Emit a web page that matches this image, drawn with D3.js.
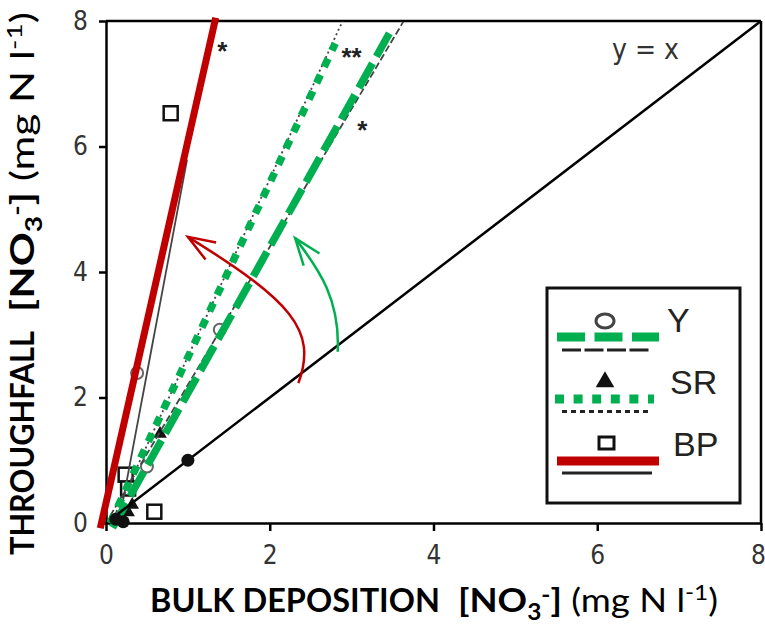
<!DOCTYPE html>
<html>
<head>
<meta charset="utf-8">
<script src="https://cdn.jsdelivr.net/npm/d3@7"></script>
<style>
  body { margin: 0; background: #fff; }
  svg { display: block; }
  .axis text { font-family: "Liberation Sans Narrow", "DejaVu Sans Condensed", sans-serif; font-size: 26px; fill: #333; }
  .axis path, .axis line { stroke: #000; stroke-width: 2.5; }
  .title { font-family: Lato, "Open Sans", sans-serif; font-size: 33px; font-weight: 700; fill: #000; }
</style>
</head>
<body>
<svg width="765" height="634"></svg>
<script>

// tick values (both axes)
var ticks = [0, 2, 4, 6, 8];

var seriesNames = ["Y", "SR", "BP"];

// regression lines: [slope, intercept, xStart, xEnd]
var fitMain = [[2.33, -0.26, 0.08, 3.46], [2.78, -0.14, 0.05, 2.80], [5.77, 0.32, -0.07, 1.34]];
var fitThin = [[2.20, 0.00, 0.05, 3.63], [2.83, -0.18, 0.10, 2.89], [6.95, -1.09, 0.18, 0.99]];

// 1:1 line
var oneToOne = [[0.1, 0.1], [8, 8]];

// points
var yX = [1.39, 0.50, 0.38, 0.16], yY = [3.08, 0.90, 2.39, 0.08];
var srX = [0.66, 0.32, 0.27], srY = [1.42, 0.29, 0.17];
var bpX = [0.79, 0.24, 0.27, 0.59], bpY = [6.53, 0.77, 0.55, 0.18];
var bulkX = [1.00, 0.21, 0.12], bulkY = [1.00, 0.02, 0.06];

// significance marks
var starX = [1.42, 3.00, 3.13], starY = [7.62, 7.52, 6.36], starLabel = ["*", "**", "*"];

// curved arrows: start, control1, control2, tip
var arrowRed = [[2.35, 2.23], [2.59, 3.08], [2.25, 3.55], [1.00, 4.56]];
var arrowGreen = [[2.83, 2.73], [2.86, 3.55], [2.61, 4.03], [2.31, 4.54]];

// styles
var mainColor = ["#00b050", "#00b050", "#c00000"];
var mainDash = ["28,8", "9,9", null];
var thinDash = ["7,3", "2,3", null];

var svg = d3.select("svg"),
    margin = {top: 21, right: 4, bottom: 111, left: 106},
    width = +svg.attr("width") - margin.left - margin.right,
    height = +svg.attr("height") - margin.top - margin.bottom,
    g = svg.append("g").attr("transform", "translate(" + margin.left + "," + margin.top + ")");

var x = d3.scaleLinear().domain([0, 8]).range([0, width]);
var y = d3.scaleLinear().domain([0, 8]).range([height, 0]);

var line = d3.line()
    .x(function(d) { return x(d[0]); })
    .y(function(d) { return y(d[1]); });

function fitPts(f) {
  return [[f[2], f[1] + f[0] * f[2]], [f[3], f[1] + f[0] * f[3]]];
}

// arrowheads
var defs = svg.append("defs");
["#c00000", "#00b050"].forEach(function(c, i) {
  defs.append("marker")
      .attr("id", "ah" + i)
      .attr("markerUnits", "userSpaceOnUse")
      .attr("viewBox", "-32 -16 36 32")
      .attr("markerWidth", 36)
      .attr("markerHeight", 32)
      .attr("orient", "auto")
      .style("overflow", "visible")
    .append("path")
      .attr("d", "M-27,-10L0,0L-27,10")
      .attr("fill", "none")
      .attr("stroke", c)
      .attr("stroke-width", 2.5);
});

/*  Axes & frame  */

g.append("g")
    .attr("class", "axis")
    .attr("transform", "translate(0," + height + ")")
    .call(d3.axisBottom(x).tickValues(ticks).tickSize(8).tickSizeOuter(0).tickPadding(15))
  .selectAll("text")
    .attr("dx", function(d) { return d == 8 ? -3 : 0; });

g.append("g")
    .attr("class", "axis")
    .call(d3.axisLeft(y).tickValues(ticks).tickSize(7).tickSizeOuter(0).tickPadding(11));

g.append("line")
    .attr("x1", x(0)).attr("x2", x(8))
    .attr("y1", y(8)).attr("y2", y(8))
    .attr("stroke", "#000").attr("stroke-width", 2.5);

g.append("line")
    .attr("x1", x(8)).attr("x2", x(8))
    .attr("y1", y(8)).attr("y2", y(0))
    .attr("stroke", "#000").attr("stroke-width", 2.5);

/*  Points  */

var pts = g.append("g");

pts.selectAll(".bp").data(bpX).enter().append("rect")
    .attr("x", function(d) { return x(d) - 7; })
    .attr("y", function(d, i) { return y(bpY[i]) - 7; })
    .attr("width", 14).attr("height", 14)
    .attr("fill", "#fff").attr("stroke", "#111").attr("stroke-width", 2.5);

pts.selectAll(".yc").data(yX).enter().append("circle")
    .attr("cx", function(d) { return x(d); })
    .attr("cy", function(d, i) { return y(yY[i]); })
    .attr("r", 6)
    .attr("fill", "none").attr("stroke", "#666").attr("stroke-width", 2);

pts.selectAll(".sr").data(srX).enter().append("path")
    .attr("transform", function(d, i) { return "translate(" + x(d) + "," + y(srY[i]) + ")"; })
    .attr("d", d3.symbol().type(d3.symbolTriangle).size(80))
    .attr("fill", "#111");

/*  Thin regression lines  */

g.selectAll(".thin").data(fitThin).enter().append("path")
    .attr("d", function(d) { return line(fitPts(d)); })
    .attr("fill", "none")
    .attr("stroke", "#444")
    .attr("stroke-width", 1.8)
    .attr("stroke-dasharray", function(d, i) { return thinDash[i]; });

/*  Thick regression lines  */

g.selectAll(".main").data(fitMain).enter().append("path")
    .attr("d", function(d) { return line(fitPts(d)); })
    .attr("fill", "none")
    .attr("stroke", function(d, i) { return mainColor[i]; })
    .attr("stroke-width", function(d, i) { return i == 2 ? 7 : 7.5; })
    .attr("stroke-dasharray", function(d, i) { return mainDash[i]; });

/*  1:1 line  */

g.append("path")
    .attr("d", line(oneToOne))
    .attr("fill", "none").attr("stroke", "#000").attr("stroke-width", 2.5);

g.selectAll(".bulk").data(bulkX).enter().append("circle")
    .attr("cx", function(d) { return x(d); })
    .attr("cy", function(d, i) { return y(bulkY[i]); })
    .attr("r", 6.5)
    .attr("fill", "#111");

g.append("text")
    .attr("x", x(6.18)).attr("y", y(7.4))
    .style("font-family", "\"Liberation Sans Narrow\", \"DejaVu Sans Condensed\", sans-serif")
    .style("font-size", "28px").style("fill", "#333")
    .text("y = x");

/*  Stars  */

g.selectAll(".star").data(starLabel).enter().append("text")
    .attr("x", function(d, i) { return x(starX[i]); })
    .attr("y", function(d, i) { return y(starY[i]); })
    .attr("dy", "0.58em")
    .attr("text-anchor", "middle")
    .style("font-family", "\"Liberation Sans\", sans-serif")
    .style("font-size", "26px").style("font-weight", "700").style("fill", "#222")
    .text(function(d) { return d; });

/*  Arrows  */

function curve(p) {
  return "M" + x(p[0][0]) + "," + y(p[0][1]) +
         "C" + x(p[1][0]) + "," + y(p[1][1]) + " " +
         x(p[2][0]) + "," + y(p[2][1]) + " " +
         x(p[3][0]) + "," + y(p[3][1]);
}

g.append("path").attr("d", curve(arrowRed))
    .attr("fill", "none").attr("stroke", "#c00000").attr("stroke-width", 2.5)
    .attr("marker-end", "url(#ah0)");

g.append("path").attr("d", curve(arrowGreen))
    .attr("fill", "none").attr("stroke", "#00b050").attr("stroke-width", 2.5)
    .attr("marker-end", "url(#ah1)");

/*  Legend  */

var lg = svg.append("g");
lg.append("rect")
    .attr("x", 547).attr("y", 288).attr("width", 193).attr("height", 215)
    .attr("fill", "#fff").attr("stroke", "#111").attr("stroke-width", 3);

var rowY = [0, 62, 124];

seriesNames.forEach(function(name, i) {
  var r = lg.append("g").attr("transform", "translate(0," + rowY[i] + ")");
  if (i == 0) {
    r.append("ellipse").attr("cx", 605).attr("cy", 321).attr("rx", 9).attr("ry", 7)
        .attr("fill", "none").attr("stroke", "#444").attr("stroke-width", 3);
  } else if (i == 1) {
    r.append("path").attr("transform", "translate(605,320)")
        .attr("d", d3.symbol().type(d3.symbolTriangle).size(150)).attr("fill", "#111");
  } else {
    r.append("rect").attr("x", 599).attr("y", 313).attr("width", 15).attr("height", 12)
        .attr("fill", "none").attr("stroke", "#111").attr("stroke-width", 3);
  }
  r.append("line")
      .attr("x1", i == 1 ? 555 : 557).attr("x2", i == 1 ? 654 : 659)
      .attr("y1", 337).attr("y2", 337)
      .attr("stroke", mainColor[i]).attr("stroke-width", 9)
      .attr("stroke-dasharray", i == 0 ? "28,9.5" : i == 1 ? "9,9.6" : null);
  r.append("line")
      .attr("x1", 562).attr("x2", 652)
      .attr("y1", 350 - i * 0.5).attr("y2", 350 - i * 0.5)
      .attr("stroke", "#222").attr("stroke-width", 3)
      .attr("stroke-dasharray", i == 0 ? "19,3.5" : i == 1 ? "5,4" : null);
  r.append("text")
      .attr("x", 667 + i * 3).attr("y", 332)
      .style("font-family", "\"Liberation Sans\", Arial, sans-serif")
      .style("font-size", "34px").style("fill", "#222")
      .text(name);
});

/*  Axis titles  */

function unitText(sel) {
  sel.append("tspan").text("[NO");
  sel.append("tspan").attr("dy", 8).style("font-size", "22px").text("3");
  sel.append("tspan").attr("dy", -17).style("font-size", "22px").text("-");
  sel.append("tspan").attr("dy", 9).text("]");
  sel.append("tspan").style("font-weight", 400).text(" (mg N l");
  sel.append("tspan").attr("dy", -12).style("font-weight", 400).style("font-size", "22px").text("-1");
  sel.append("tspan").attr("dy", 12).style("font-weight", 400).text(")");
}

svg.append("text").attr("class", "title")
    .attr("x", 150).attr("y", 612)
    .attr("textLength", 290).attr("lengthAdjust", "spacingAndGlyphs")
    .text("BULK DEPOSITION");

var xu = svg.append("text").attr("class", "title")
    .attr("x", 458).attr("y", 612)
    .attr("textLength", 260).attr("lengthAdjust", "spacingAndGlyphs");
unitText(xu);

svg.append("text").attr("class", "title")
    .attr("transform", "rotate(-90)")
    .attr("x", -555).attr("y", 34)
    .attr("textLength", 224).attr("lengthAdjust", "spacingAndGlyphs")
    .text("THROUGHFALL");

var yu = svg.append("text").attr("class", "title")
    .attr("transform", "rotate(-90)")
    .attr("x", -312).attr("y", 34)
    .attr("textLength", 300).attr("lengthAdjust", "spacingAndGlyphs");
unitText(yu);

</script>
</body>
</html>
